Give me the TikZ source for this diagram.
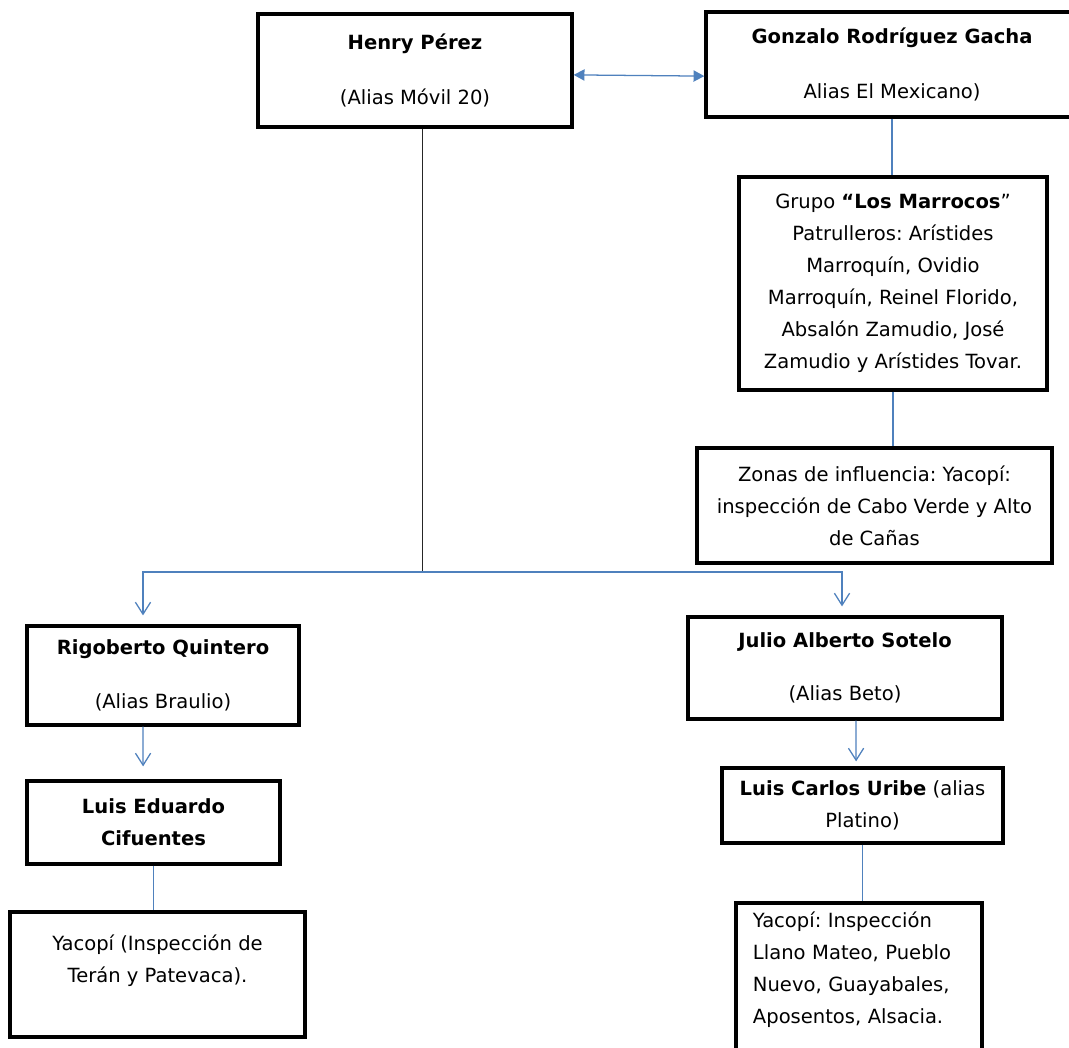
\documentclass[tikz,border=0pt]{standalone}
\usepackage{fontspec}
\setmainfont{DejaVu Sans}
\usetikzlibrary{arrows.meta}
\definecolor{linkblue}{RGB}{79,129,189}
\tikzset{
  box/.style={draw=black,line width=2.3pt,inner sep=0pt,align=center,
    font=\fontsize{13.9}{22.8}\selectfont\frenchspacing},
  link/.style={draw=linkblue,line width=0.9pt},
  down/.style={-{Straight Barb[length=0.3cm,width=0.38cm]}},
  both/.style={{Triangle[length=0.27cm,width=0.28cm]}-{Triangle[length=0.27cm,width=0.28cm]}}
}

\begin{document}
\begin{tikzpicture}[x=0.025cm,y=-0.025cm]
\useasboundingbox (0,0) rectangle (1069,1047);
\fill[white] (0,0) rectangle (1069,1047);

% top row
\node[box,minimum width=7.85cm,minimum height=2.825cm] (henry) at (415,70.5) {\textbf{Henry Pérez}\\[16pt](Alias Móvil 20)};
\node[box,minimum width=9.3cm,minimum height=2.625cm] (gacha) at (892,64.5) {\textbf{Gonzalo Rodríguez Gacha}\\[16pt]Alias El Mexicano)};

% right column
\node[box,minimum width=7.7cm,minimum height=5.325cm] (marrocos) at (893,283.5) {Grupo \textbf{“Los Marrocos}”\\Patrulleros: Arístides\\Marroquín, Ovidio\\Marroquín, Reinel Florido,\\Absalón Zamudio, José\\Zamudio y Arístides Tovar.};
\node[box,minimum width=8.875cm,minimum height=2.875cm] (zonas) at (874.5,505.5) {Zonas de influencia: Yacopí:\\inspección de Cabo Verde y Alto\\de Cañas};

% left branch
\node[box,minimum width=6.8cm,minimum height=2.475cm] (rigoberto) at (163,675.5) {\textbf{Rigoberto Quintero}\\[16pt](Alias Braulio)};
\node[box,minimum width=6.325cm,minimum height=2.075cm] (cifuentes) at (153.5,822.5) {\textbf{Luis Eduardo}\\\textbf{Cifuentes}};
\node[box,minimum width=7.375cm,minimum height=3.125cm] (yacopiL) at (157.5,974.5) {Yacopí (Inspección de\\Terán y Patevaca).\\\mbox{}};

% right branch
\node[box,minimum width=7.85cm,minimum height=2.55cm] (sotelo) at (845,668) {\textbf{Julio Alberto Sotelo}\\[15pt](Alias Beto)};
\node[box,minimum width=7.025cm,minimum height=1.875cm] (uribe) at (862.5,805.5) {\textbf{Luis Carlos Uribe} (alias\\Platino)};
\node[box,minimum width=6.15cm,minimum height=4.05cm,text width=5.3cm,align=left] (yacopiR) at (859,984) {Yacopí: Inspección\\Llano Mateo, Pueblo\\Nuevo, Guayabales,\\Aposentos, Alsacia.\\\mbox{}};

% connectors
\draw[link,both] ([yshift=-0.11cm]henry.east) -- ([yshift=-0.29cm]gacha.west);
\draw[link] (gacha.south) -- (gacha.south |- marrocos.north);
\draw[link] (marrocos.south) -- (marrocos.south |- zonas.north);

\coordinate (fork) at (422,572);
\draw[black!85,line width=0.7pt] (henry.south -| fork) -- (fork);
\draw[link,down,shorten >=0.225cm] (fork) -| ([xshift=-0.5cm]rigoberto.north);
\draw[link,down,shorten >=0.225cm] (fork) -| ([xshift=-0.075cm]sotelo.north);

\draw[link,down] ([xshift=-0.5cm]rigoberto.south) -- ([xshift=-0.26cm,yshift=0.325cm]cifuentes.north);
\draw[link] (cifuentes.south) -- (cifuentes.south |- yacopiL.north);
\draw[link,down] ([xshift=0.275cm]sotelo.south) -- ([xshift=-0.16cm,yshift=0.125cm]uribe.north);
\draw[link] (uribe.south) -- (uribe.south |- yacopiR.north);

\end{tikzpicture}
\end{document}
